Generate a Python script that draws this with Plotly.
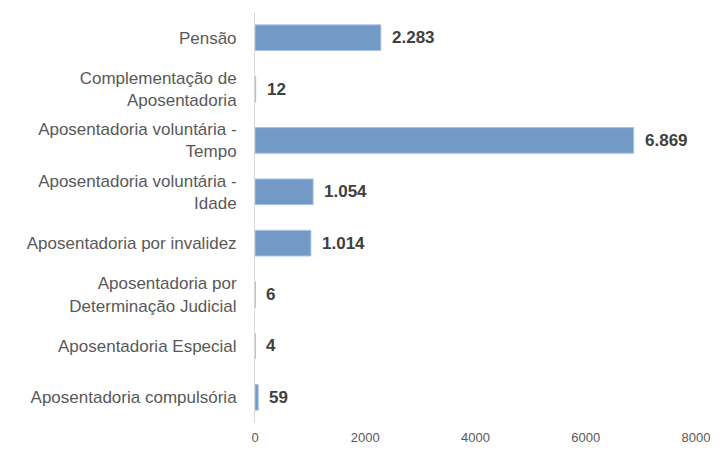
import plotly.graph_objects as go

categories = [
    "Aposentadoria compulsória",
    "Aposentadoria Especial",
    "Aposentadoria por<br>Determinação Judicial",
    "Aposentadoria por invalidez",
    "Aposentadoria voluntária -<br>Idade",
    "Aposentadoria voluntária -<br>Tempo",
    "Complementação de<br>Aposentadoria",
    "Pensão",
]
values = [59, 4, 6, 1014, 1054, 6869, 12, 2283]
labels = ["59", "4", "6", "1.014", "1.054", "6.869", "12", "2.283"]
x_ticks = [0, 2000, 4000, 6000, 8000]

fig = go.Figure()
fig.add_trace(go.Bar(
    y=categories, x=values, orientation="h", width=0.5,
    marker=dict(color="#7399C6", line=dict(color="#A9C4E4", width=1)),
    hoverinfo="skip",
))
for c, v, t in zip(categories, values, labels):
    fig.add_annotation(x=v, y=c, text="<b>" + t + "</b>", showarrow=False,
                       xanchor="left", xshift=9,
                       font=dict(family="Liberation Sans, Arial", size=17, color="#404040"))

fig.update_layout(
    width=722, height=457,
    margin=dict(l=255, r=20, t=12, b=29),
    plot_bgcolor="white", paper_bgcolor="white",
    showlegend=False,
    font=dict(family="Liberation Sans, Arial", color="#595959"),
    xaxis=dict(range=[0, 8000], tickvals=x_ticks, ticktext=[str(v) for v in x_ticks],
               showgrid=False, zeroline=False, showline=False,
               tickfont=dict(size=13, color="#595959"), ticks="", ticklabelstandoff=5),
    yaxis=dict(categoryorder="array", categoryarray=categories,
               showgrid=False, zeroline=False, showline=True, linecolor="#D9D9D9", linewidth=1,
               ticks="", tickfont=dict(size=17, color="#595959"), ticklabelstandoff=14),
)
fig.write_html("out.html")
